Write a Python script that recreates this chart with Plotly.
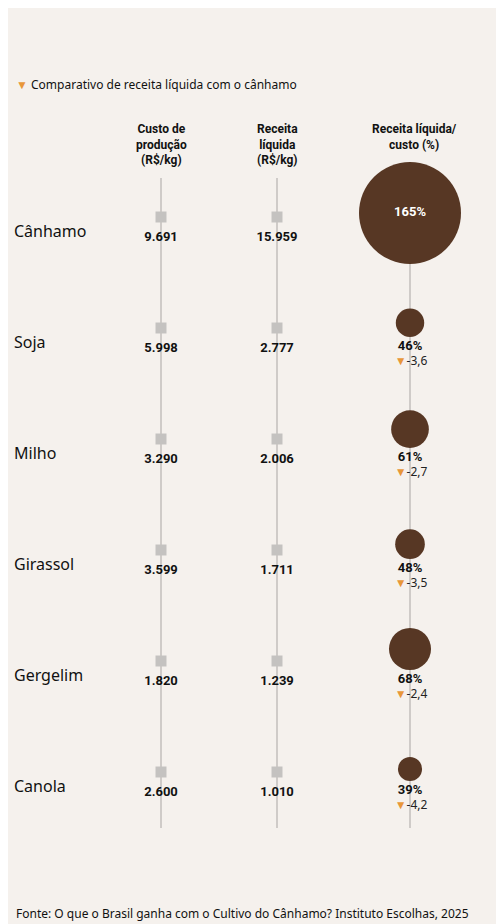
import plotly.graph_objects as go

crops = ["Cânhamo", "Soja", "Milho", "Girassol", "Gergelim", "Canola"]
custo = ["9.691", "5.998", "3.290", "3.599", "1.820", "2.600"]
receita = ["15.959", "2.777", "2.006", "1.711", "1.239", "1.010"]
pct = [165, 46, 61, 48, 68, 39]
delta = [None, "-3,6", "-2,7", "-3,5", "-2,4", "-4,2"]

bg = "#f5f1ed"
brown = "#573724"
orange = "#e8973a"
x_custo, x_rec, x_pct = 161, 277, 410
row_y = [217 + 111 * i for i in range(len(crops))]

fig = go.Figure()
for x in [x_custo, x_rec, x_pct]:
    fig.add_trace(go.Scatter(x=[x, x], y=[178, 828], mode="lines",
                             line=dict(color="#cfcbc8", width=2), hoverinfo="skip"))

# square markers and values
for x, vals in [(x_custo, custo), (x_rec, receita)]:
    fig.add_trace(go.Scatter(x=[x] * len(crops), y=row_y, mode="markers",
                             marker=dict(symbol="square", size=11, color="#c4c2c0", opacity=1)))
    fig.add_trace(go.Scatter(x=[x] * len(crops), y=[y + 21 for y in row_y], mode="text",
                             text=[f"<b>{v}</b>" for v in vals],
                             textfont=dict(family="Roboto", size=13, color="#111")))

# bubbles, radius proportional to value
radius = [51 * p / 165 for p in pct]
cy = [213] + [y + 9 - r for y, r in zip(row_y[1:], radius[1:])]
fig.add_trace(go.Scatter(x=[x_pct] * len(crops), y=cy, mode="markers",
                         marker=dict(size=[2 * r for r in radius], color=brown, opacity=1,
                                     line=dict(width=0))))
fig.add_trace(go.Scatter(x=[x_pct], y=[cy[0]], mode="text", text=[f"<b>{pct[0]}%</b>"],
                         textfont=dict(family="Roboto", size=13, color="white")))
fig.add_trace(go.Scatter(x=[x_pct] * (len(crops) - 1), y=[y + 19 for y in row_y[1:]], mode="text",
                         text=[f"<b>{p}%</b>" for p in pct[1:]],
                         textfont=dict(family="Roboto", size=13, color="#111")))
fig.add_trace(go.Scatter(x=[x_pct + 1] * (len(crops) - 1), y=[y + 34 for y in row_y[1:]], mode="text",
                         text=[f"<span style='color:{orange}'>▼</span>{d}" for d in delta[1:]],
                         textfont=dict(family="Noto Sans", size=12, color="#222")))

# crop names
fig.add_trace(go.Scatter(x=[14] * len(crops), y=[y + 16 for y in row_y], mode="text",
                         text=crops, textposition="middle right",
                         textfont=dict(family="Noto Sans", size=16, color="#111")))

ann = [
    dict(x=14, y=6, text="<b>Comparação do cânhamo<br>com outras lavouras</b>", size=28,
         family="Inter", xanchor="left", yanchor="top"),
    dict(x=14, y=84, text=f"<span style='color:{orange}'>▼</span> Comparativo de receita líquida com o cânhamo",
         size=12, family="Noto Sans", xanchor="left", yanchor="middle"),
    dict(x=x_custo, y=120, text="<b>Custo de<br>produção<br>(R$/kg)</b>", size=12, family="Roboto",
         xanchor="center", yanchor="top"),
    dict(x=x_rec, y=120, text="<b>Receita<br>líquida<br>(R$/kg)</b>", size=12, family="Roboto",
         xanchor="center", yanchor="top"),
    dict(x=x_pct + 4, y=120, text="<b>Receita líquida/<br>custo (%)</b>", size=12, family="Roboto",
         xanchor="center", yanchor="top"),
    dict(x=14, y=913, text="Fonte: O que o Brasil ganha com o Cultivo do Cânhamo? Instituto Escolhas, 2025",
         size=12, family="Noto Sans", xanchor="left", yanchor="middle"),
]
for a in ann:
    fig.add_annotation(x=a["x"], y=a["y"], text=a["text"], showarrow=False, xref="x", yref="y",
                       xanchor=a["xanchor"], yanchor=a["yanchor"], align="center" if a["xanchor"] == "center" else "left",
                       font=dict(family=a["family"], size=a["size"], color="#111"))

# page body has an 8px margin, so the figure covers pixels 8..504 / 8..924
fig.update_layout(width=496, height=916, margin=dict(l=0, r=0, t=0, b=0),
                  paper_bgcolor=bg, plot_bgcolor=bg, showlegend=False)
fig.update_xaxes(range=[8, 504], visible=False, fixedrange=True)
fig.update_yaxes(range=[924, 8], visible=False, fixedrange=True)
fig.write_html("out.html")
